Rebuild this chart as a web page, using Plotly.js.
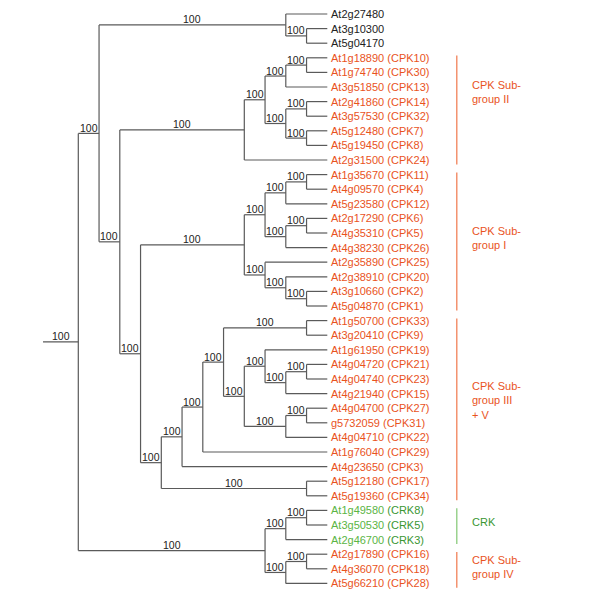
<!DOCTYPE html>
<html><head><meta charset="utf-8">
<script src="https://cdn.plot.ly/plotly-3.0.1.min.js"></script>
<style>html,body{margin:0;padding:0;background:#fff}</style>
</head><body>
<div id="chart" style="width:600px;height:598px"></div>
<script>
// ---------- DATA ----------
// internal nodes of the tree (cladogram levels) with bootstrap support
const nodeNames   = ['R','A','Top','W','B','II','IIa','IIb','IId','IIc','IIe','IIf','C','I','Ia','Ic','Ie','Id','If','Ib','Ig','Ih','D','E','G','H','J','K','L','N','O','M','P','F','Q','S','T','U','V'];
const nodeParent  = [null,'R','A','Top','A','B','II','IIa','IIb','IIa','IIc','IIc','B','C','I','Ia','Ic','Ia','Id','I','Ib','Ig','C','D','E','G','H','H','K','L','N','K','M','D','R','Q','S','Q','U'];
const nodeDepth   = [0,1,10,11,2,8,9,10,11,10,11,11,3,8,9,10,11,10,11,9,10,11,4,5,6,7,11,8,9,10,11,10,11,11,9,10,11,10,11];
const nodeSupport = [100,100,100,100,100,100,100,100,100,100,100,100,100,100,100,100,100,100,100,100,100,100,100,100,100,100,100,100,100,100,100,100,100,100,100,100,100,100,100];
const rootStem = 1.7;
const leafDepth = 12;

// leaves, top to bottom
const leafIds = ['At2g27480','At3g10300','At5g04170','At1g18890','At1g74740','At3g51850','At2g41860','At3g57530','At5g12480','At5g19450','At2g31500','At1g35670','At4g09570','At5g23580','At2g17290','At4g35310','At4g38230','At2g35890','At2g38910','At3g10660','At5g04870','At1g50700','At3g20410','At1g61950','At4g04720','At4g04740','At4g21940','At4g04700','g5732059','At4g04710','At1g76040','At4g23650','At5g12180','At5g19360','At1g49580','At3g50530','At2g46700','At2g17890','At4g36070','At5g66210'];
const leafGenes = ['','','','CPK10','CPK30','CPK13','CPK14','CPK32','CPK7','CPK8','CPK24','CPK11','CPK4','CPK12','CPK6','CPK5','CPK26','CPK25','CPK20','CPK2','CPK1','CPK33','CPK9','CPK19','CPK21','CPK23','CPK15','CPK27','CPK31','CPK22','CPK29','CPK3','CPK17','CPK34','CRK8','CRK5','CRK3','CPK16','CPK18','CPK28'];
const leafParent = ['Top','W','W','IId','IId','IIb','IIe','IIe','IIf','IIf','II','Ie','Ie','Ic','If','If','Id','Ib','Ig','Ih','Ih','J','J','L','O','O','N','P','P','M','G','E','F','F','T','T','S','V','V','U'];
const leafClass = ['other','other','other','cpk','cpk','cpk','cpk','cpk','cpk','cpk','cpk','cpk','cpk','cpk','cpk','cpk','cpk','cpk','cpk','cpk','cpk','cpk','cpk','cpk','cpk','cpk','cpk','cpk','cpk','cpk','cpk','cpk','cpk','cpk','crk','crk','crk','cpk','cpk','cpk'];

// groups
const groupLabels = [['CPK Sub-','group II'],['CPK Sub-','group I'],['CPK Sub-','group III','+ V'],['CRK'],['CPK Sub-','group IV']];
const groupFirst  = [3,11,21,34,37];
const groupLast   = [10,20,33,36,39];
const groupClass  = ['cpk','cpk','cpk','crk','cpk'];

// ---------- STYLE ----------
const FONT = 'Liberation Sans, Arial, Helvetica, sans-serif';
const ORANGE = '#e9531d', BRACKET_OR = '#f28a64';
const GREEN_L = '#5bb545', GREEN_D = '#3a9632', BRACKET_GR = '#93cf86';
const LINE = '#5a5a5a', TXT = '#222';
const groupLabelShift = [-1.15,-0.16,-0.52,-0.23,-0.12];

// ---------- LAYOUT OF TREE ----------
const idx = {}; nodeNames.forEach((n,i)=>idx[n]=i);
const kids = nodeNames.map(()=>[]);
nodeParent.forEach((p,i)=>{ if(p!==null) kids[idx[p]].push({t:'n',i}); });
leafParent.forEach((p,i)=>kids[idx[p]].push({t:'l',i}));
const nodeY = new Array(nodeNames.length).fill(null);
function yOf(c){ return c.t==='l' ? c.i : computeY(c.i); }
function computeY(i){
  if(nodeY[i]!==null) return nodeY[i];
  const ys = kids[i].map(yOf);
  nodeY[i] = ys.reduce((a,b)=>a+b,0)/ys.length;
  return nodeY[i];
}
nodeNames.forEach((n,i)=>computeY(i));

const lx=[], ly=[];
function seg(x0,y0,x1,y1){ lx.push(x0,x1,null); ly.push(y0,y1,null); }
const annotations = [];
// verticals
nodeNames.forEach((n,i)=>{
  const ys = kids[i].map(c=> c.t==='l'? c.i : nodeY[c.i]);
  seg(nodeDepth[i], Math.min(...ys), nodeDepth[i], Math.max(...ys));
});
// horizontals to internal nodes + support labels
nodeNames.forEach((n,i)=>{
  const px = nodeParent[i]===null ? nodeDepth[i]-rootStem : nodeDepth[idx[nodeParent[i]]];
  seg(px, nodeY[i], nodeDepth[i], nodeY[i]);
  annotations.push({x:(px+nodeDepth[i])/2, y:nodeY[i], xref:'x', yref:'y', text:String(nodeSupport[i]),
    showarrow:false, xanchor:'center', yanchor:'middle', yshift:5.5,
    font:{family:FONT, size:10.5, color:TXT}});
});
// horizontals to leaves + leaf labels
leafIds.forEach((id,i)=>{
  const p = nodeDepth[idx[leafParent[i]]];
  seg(p, i, leafDepth, i);
  let txt;
  if(leafClass[i]==='other') txt = `<span style="color:${TXT}">${id}</span>`;
  else if(leafClass[i]==='crk') txt = `<span style="color:${GREEN_L}">${id}</span> <span style="color:${GREEN_D}">(${leafGenes[i]})</span>`;
  else txt = `<span style="color:${ORANGE}">${id} (${leafGenes[i]})</span>`;
  annotations.push({x:leafDepth, y:i, xref:'x', yref:'y', text:txt, showarrow:false,
    xanchor:'left', yanchor:'middle', xshift:1.5, font:{family:FONT, size:11, color:ORANGE}});
});

// groups
const shapes = [];
const bracketX = leafDepth + 6.24, groupTextX = leafDepth + 6.9;
groupLabels.forEach((g,k)=>{
  const col = groupClass[k]==='crk' ? BRACKET_GR : BRACKET_OR;
  shapes.push({type:'line', xref:'x', yref:'y', x0:bracketX, x1:bracketX,
    y0:groupFirst[k]-0.15, y1:groupLast[k]+0.3, line:{color:col, width:1.4}});
  annotations.push({x:groupTextX, y:(groupFirst[k]+groupLast[k])/2 + groupLabelShift[k], xref:'x', yref:'y',
    text:g.join('<br>'), align:'left', showarrow:false, xanchor:'left', yanchor:'middle',
    font:{family:FONT, size:11, color: groupClass[k]==='crk'? GREEN_D : ORANGE}});
});

const trace = {x:lx, y:ly, mode:'lines', type:'scatter', line:{color:LINE, width:1.2}, hoverinfo:'skip', showlegend:false};

const pxPerLevel = 20.75, rootPx = 78.3;
const layout = {
  width:600, height:598, margin:{l:0,r:0,t:0,b:0},
  paper_bgcolor:'#fff', plot_bgcolor:'#fff',
  xaxis:{range:[-rootPx/pxPerLevel, (600-rootPx)/pxPerLevel], visible:false, fixedrange:true},
  yaxis:{range:[40.0, -0.959], visible:false, fixedrange:true},
  annotations, shapes, showlegend:false
};
Plotly.newPlot('chart', [trace], layout, {staticPlot:true, displayModeBar:false});
</script>
</body></html>
